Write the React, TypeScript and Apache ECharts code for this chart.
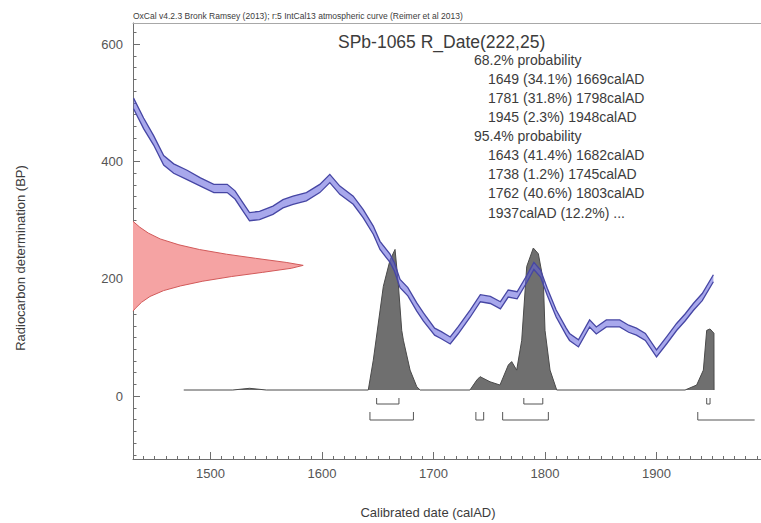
import React, { useEffect, useRef } from 'react';
import * as echarts from 'echarts';

// Calibration curve (IntCal13): calendar year, BP, 1-sigma half width
const curveYears = [1431, 1440, 1449, 1458, 1467, 1479, 1491, 1503, 1515, 1522, 1529, 1535, 1544, 1556, 1565, 1574, 1586, 1598, 1607, 1616, 1628, 1637, 1646, 1652, 1661, 1665, 1670, 1677, 1685, 1691, 1701, 1707, 1715, 1722, 1733, 1742, 1751, 1760, 1767, 1775, 1784, 1790, 1796, 1802, 1810, 1819, 1822, 1830, 1840, 1846, 1855, 1867, 1875, 1882, 1890, 1900, 1909, 1918, 1926, 1933, 1941, 1951];
const curveBP = [499, 465, 436, 402, 388, 377, 365, 354, 354, 343, 323, 306, 308, 317, 328, 334, 340, 354, 371, 351, 334, 311, 283, 257, 235, 220, 192, 178, 152, 135, 110, 104, 95, 112, 141, 167, 164, 155, 175, 172, 201, 222, 209, 178, 141, 110, 101, 90, 124, 112, 124, 124, 115, 110, 101, 73, 95, 118, 135, 152, 169, 201];
const curveSigma = [9, 9, 8, 8, 8, 8, 7, 7, 7, 7, 7, 7, 7, 7, 7, 7, 7, 7, 7, 7, 7, 7, 7, 7, 7, 7, 7, 7, 7, 7, 6, 6, 6, 6, 6, 6, 6, 6, 6, 6, 6, 6, 6, 6, 6, 6, 6, 6, 6, 6, 6, 6, 6, 6, 6, 6, 6, 6, 6, 6, 6, 6];

// Calibrated probability distribution (relative)
const probYears = [1476, 1520, 1535, 1550, 1641.5, 1646, 1655, 1661, 1665.5, 1668.4, 1671.5, 1673, 1679, 1685, 1688, 1732.7, 1738.8, 1741.7, 1750.7, 1759.6, 1767.1, 1770.1, 1774.6, 1779.1, 1783.6, 1789.5, 1794, 1798.5, 1800, 1804.5, 1810.5, 1925.6, 1936, 1942, 1945, 1948, 1951.5, 1951.6];
const probValues = [0, 0, 0.012, 0, 0, 0.21, 0.73, 0.915, 0.99, 0.75, 0.42, 0.35, 0.14, 0.023, 0, 0, 0.07, 0.094, 0.058, 0.035, 0.176, 0.2, 0.14, 0.35, 0.87, 1.0, 0.96, 0.77, 0.42, 0.14, 0, 0, 0.035, 0.14, 0.42, 0.43, 0.4, 0];

// Radiocarbon determination R_Date(222,25), relative density
const redBP = [298, 288, 278, 268, 258, 250, 242, 235, 228, 223, 218, 211, 204, 196, 188, 180, 170, 160, 150, 145];
const redDensity = [0, 0.04, 0.09, 0.16, 0.27, 0.39, 0.55, 0.72, 0.9, 1.0, 0.93, 0.76, 0.58, 0.41, 0.28, 0.18, 0.1, 0.05, 0.015, 0];

// Ranges
const range68Start = [1649, 1781, 1945];
const range68End = [1669, 1798, 1948];
const range95Start = [1643, 1738, 1762, 1937];
const range95End = [1682, 1745, 1803, 1988];
const range95Open = [0, 0, 0, 1];

// Ticks and texts
const xTickLabels = [1500, 1600, 1700, 1800, 1900];
const yTickLabels = [0, 200, 400, 600];
const titleText = 'SPb-1065 R_Date(222,25)';
const head68 = '68.2% probability';
const prob68Lines = ['1649 (34.1%) 1669calAD', '1781 (31.8%) 1798calAD', '1945 (2.3%) 1948calAD'];
const head95 = '95.4% probability';
const prob95Lines = ['1643 (41.4%) 1682calAD', '1738 (1.2%) 1745calAD', '1762 (40.6%) 1803calAD', '1937calAD (12.2%) ...'];
const headerText = 'OxCal v4.2.3 Bronk Ramsey (2013); r:5 IntCal13 atmospheric curve (Reimer et al 2013)';
const xTitle = 'Calibrated date (calAD)';
const yTitle = 'Radiocarbon determination (BP)';

const X_MIN = 1430.5;
const X_MAX = 1993.7;
const Y_MIN = -107;
const Y_MAX = 636;

const FONT = "'Liberation Sans', Arial, sans-serif";
const AXIS_COLOR = '#6e6e6e';
const TEXT_COLOR = '#3c3c3c';

const xMinor: number[] = [];
for (let v = 1440; v <= 1990; v += 10) if (v % 100 !== 0) xMinor.push(v);
const yMinor: number[] = [];
for (let v = -100; v <= 620; v += 20) if (v % 200 !== 0) yMinor.push(v);

function txt(text: string, x: number, y: number, size: number, extra: any = {}) {
  return {
    type: 'text',
    x,
    y,
    silent: true,
    ...extra,
    style: {
      text,
      font: `${size}px ${FONT}`,
      fill: TEXT_COLOR,
      align: extra.align || 'left',
      verticalAlign: 'middle',
      textAlign: extra.align || 'left',
      textVerticalAlign: 'middle',
    },
  };
}

export default function App() {
  const ref = useRef<HTMLDivElement>(null);
  useEffect(() => {
    const chart = echarts.init(ref.current as HTMLDivElement, null, { renderer: 'svg' });

    const bracketData: number[][] = [];
    range68Start.forEach((s, i) => bracketData.push([s, range68End[i], 0, 0]));
    range95Start.forEach((s, i) => bracketData.push([s, range95End[i], 1, range95Open[i]]));

    const graphics: any[] = [];
    graphics.push(txt(headerText, 133, 16, 8.5, {}));
    graphics.push(txt(titleText, 338, 42, 17.5));
    graphics.push(txt(head68, 474, 60, 14));
    prob68Lines.forEach((t, i) => graphics.push(txt(t, 488, 78.5 + i * 19.2, 14)));
    graphics.push(txt(head95, 474, 136, 14));
    prob95Lines.forEach((t, i) => graphics.push(txt(t, 488, 155 + i * 19.2, 14)));
    graphics.push(txt(xTitle, 428, 512, 13, { align: 'center' }));
    graphics.push(txt(yTitle, 20, 258, 13, { align: 'center', rotation: Math.PI / 2 }));

    const plainNum = (v: number) => String(v);

    const option: any = {
      animation: false,
      backgroundColor: '#ffffff',
      grid: { left: 133, right: 0, top: 23, bottom: 64, containLabel: false },
      xAxis: [
        {
          type: 'value', min: X_MIN, max: X_MAX, position: 'bottom',
          axisLine: { show: true, onZero: false, lineStyle: { color: AXIS_COLOR, width: 1 } },
          axisTick: { show: true, inside: true, length: 7, customValues: xTickLabels, lineStyle: { color: AXIS_COLOR } },
          axisLabel: { show: true, customValues: xTickLabels, formatter: plainNum, color: '#555', fontSize: 13, margin: 8, fontFamily: FONT },
          splitLine: { show: false },
        },
        {
          type: 'value', min: X_MIN, max: X_MAX, position: 'bottom',
          axisLine: { show: false, onZero: false },
          axisTick: { show: true, inside: true, length: 3, customValues: xMinor, lineStyle: { color: AXIS_COLOR } },
          axisLabel: { show: false },
          splitLine: { show: false },
        },
        {
          type: 'value', min: X_MIN, max: X_MAX, position: 'top',
          axisLine: { show: true, onZero: false, lineStyle: { color: '#a8a8a8', width: 1 } },
          axisTick: { show: false },
          axisLabel: { show: false },
          splitLine: { show: false },
        },
        { type: 'value', min: 0, max: 3.69, show: false, splitLine: { show: false } },
      ],
      yAxis: [
        {
          type: 'value', min: Y_MIN, max: Y_MAX, position: 'left',
          axisLine: { show: true, onZero: false, lineStyle: { color: AXIS_COLOR, width: 1 } },
          axisTick: { show: true, inside: true, length: 7, customValues: yTickLabels, lineStyle: { color: AXIS_COLOR } },
          axisLabel: { show: true, customValues: yTickLabels, formatter: plainNum, color: '#555', fontSize: 13, margin: 10, fontFamily: FONT },
          splitLine: { show: false },
        },
        {
          type: 'value', min: Y_MIN, max: Y_MAX, position: 'left',
          axisLine: { show: false, onZero: false },
          axisTick: { show: true, inside: true, length: 3.5, customValues: yMinor, lineStyle: { color: AXIS_COLOR } },
          axisLabel: { show: false },
          splitLine: { show: false },
        },
        { type: 'value', min: -0.486, max: 2.585, show: false, splitLine: { show: false } },
      ],
      series: [
        {
          type: 'custom',
          name: 'R_Date',
          xAxisIndex: 3,
          yAxisIndex: 0,
          z: 2,
          silent: true,
          data: redBP.map((bp, i) => [redDensity[i], bp]),
          renderItem: (params: any, api: any) => {
            if (params.dataIndex !== 0) return null;
            const edge = redBP.map((bp, i) => api.coord([redDensity[i], bp]));
            return {
              type: 'group',
              children: [
                { type: 'polygon', shape: { points: edge }, style: { fill: '#f5a3a3' } },
                { type: 'polyline', shape: { points: edge }, style: { stroke: '#d25a5a', lineWidth: 1, fill: null } },
              ],
            };
          },
        },
        {
          type: 'line',
          name: 'Posterior',
          xAxisIndex: 0,
          yAxisIndex: 2,
          z: 2,
          silent: true,
          showSymbol: false,
          symbol: 'none',
          data: probYears.map((y, i) => [y, probValues[i]]),
          lineStyle: { color: '#4a4a4a', width: 1 },
          areaStyle: { color: '#6f6f6f', opacity: 1 },
        },
        {
          type: 'custom',
          name: 'Curve',
          xAxisIndex: 0,
          yAxisIndex: 0,
          z: 3,
          silent: true,
          data: curveYears.map((y, i) => [y, curveBP[i]]),
          renderItem: (params: any, api: any) => {
            if (params.dataIndex !== 0) return null;
            const up = curveYears.map((y, i) => api.coord([y, curveBP[i] + curveSigma[i]]));
            const lo = curveYears.map((y, i) => api.coord([y, curveBP[i] - curveSigma[i]]));
            return {
              type: 'group',
              children: [
                { type: 'polygon', shape: { points: up.concat(lo.slice().reverse()) }, style: { fill: 'rgba(96,96,220,0.55)' } },
                { type: 'polyline', shape: { points: up }, style: { stroke: '#4646a4', lineWidth: 1.3, fill: null } },
                { type: 'polyline', shape: { points: lo }, style: { stroke: '#4646a4', lineWidth: 1.3, fill: null } },
              ],
            };
          },
        },
        {
          type: 'custom',
          name: 'Ranges',
          xAxisIndex: 0,
          yAxisIndex: 2,
          z: 3,
          silent: true,
          dimensions: ['s', 'e', 'lvl', 'open'],
          encode: { x: [0, 1], y: 2 },
          data: bracketData,
          renderItem: (params: any, api: any) => {
            const s = api.value(0);
            const e = api.value(1);
            const lvl = api.value(2);
            const open = api.value(3);
            const p0 = api.coord([s, 0]);
            const p1 = api.coord([e, 0]);
            const base = p0[1];
            const yLine = base + (lvl ? 30 : 14);
            const yTop = base + (lvl ? 22 : 8);
            const pts = open
              ? [[p0[0], yTop], [p0[0], yLine], [p1[0], yLine]]
              : [[p0[0], yTop], [p0[0], yLine], [p1[0], yLine], [p1[0], yTop]];
            return { type: 'polyline', shape: { points: pts }, style: { stroke: '#555555', lineWidth: 1, fill: null } };
          },
        },
      ],
      graphic: graphics,
    };

    chart.setOption(option);
    return () => chart.dispose();
  }, []);

  return (
    <div
      ref={ref}
      style={{ position: 'fixed', left: 0, top: 0, width: 761, height: 523, background: '#fff' }}
    />
  );
}
